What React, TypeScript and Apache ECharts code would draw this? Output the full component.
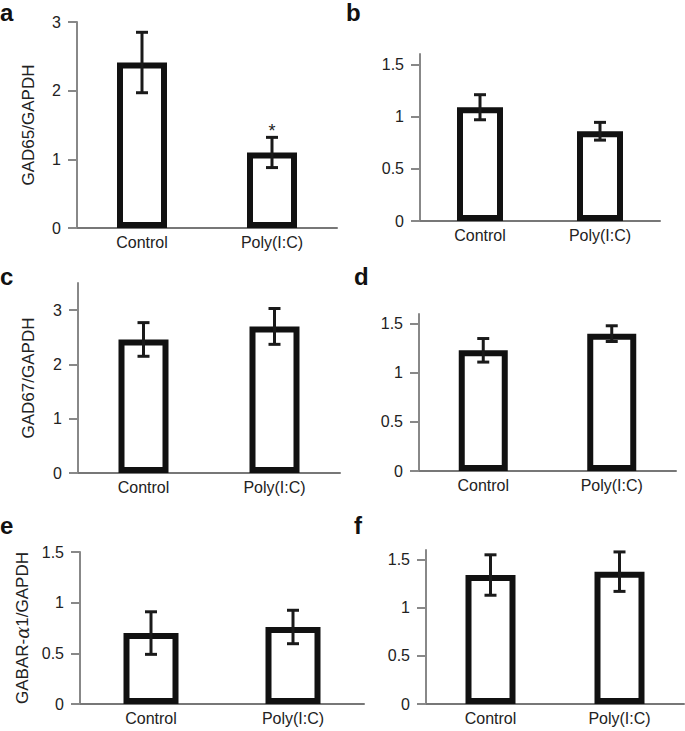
import React, { useEffect, useRef } from "react";
import * as echarts from "echarts";

// ---- data ----
const categories = ["Control", "Poly(I:C)"];

const gad65A = [2.41, 1.1];
const gad65AErr = [0.44, 0.22];
const gad65B = [1.09, 0.86];
const gad65BErr = [0.12, 0.085];
const gad67C = [2.46, 2.7];
const gad67CErr = [0.31, 0.33];
const gad67D = [1.23, 1.4];
const gad67DErr = [0.12, 0.08];
const gabaE = [0.7, 0.76];
const gabaEErr = [0.21, 0.165];
const gabaF = [1.34, 1.375];
const gabaFErr = [0.21, 0.205];

const sigA = ["", "*"];
const sigNone = ["", ""];

const ticksWhole = [0, 1, 2, 3];
const ticksHalf = [0, 0.5, 1, 1.5];

const panelLetters = ["a", "b", "c", "d", "e", "f"];
const yNames = ["GAD65/GAPDH", "", "GAD67/GAPDH", "", "GABAR-{al|α}1/GAPDH", ""];

const FONT = "'Liberation Sans', Arial, Helvetica, sans-serif";

const panels = [
  { mean: gad65A, err: gad65AErr, sig: sigA, max: 3, ticks: ticksWhole, left: 77, top: 22, width: 260, height: 206, barWidth: 50, nameGap: 40 },
  { mean: gad65B, err: gad65BErr, sig: sigNone, max: 1.6, ticks: ticksHalf, left: 420, top: 54, width: 240, height: 167, barWidth: 46, nameGap: 40 },
  { mean: gad67C, err: gad67CErr, sig: sigNone, max: 3.5, ticks: ticksWhole, left: 78, top: 283, width: 262, height: 190, barWidth: 50, nameGap: 41 },
  { mean: gad67D, err: gad67DErr, sig: sigNone, max: 1.6, ticks: ticksHalf, left: 419, top: 314, width: 257, height: 157, barWidth: 49, nameGap: 40 },
  { mean: gabaE, err: gabaEErr, sig: sigNone, max: 1.5, ticks: ticksHalf, left: 80, top: 552, width: 284, height: 152, barWidth: 55, nameGap: 49 },
  { mean: gabaF, err: gabaFErr, sig: sigNone, max: 1.6, ticks: ticksHalf, left: 426, top: 550, width: 258, height: 154, barWidth: 50, nameGap: 40 },
];

const letterPos = [
  { x: 0, y: 0 },
  { x: 346, y: 0 },
  { x: 0, y: 264 },
  { x: 354, y: 264 },
  { x: 0, y: 513 },
  { x: 354, y: 513 },
];

export default function App() {
  const ref = useRef<HTMLDivElement>(null);

  useEffect(() => {
    document.body.style.margin = "0";
    if (!ref.current) return;
    const chart = echarts.init(ref.current, undefined, { renderer: "svg" });

    const grid: any[] = [];
    const xAxis: any[] = [];
    const yAxis: any[] = [];
    const series: any[] = [];

    panels.forEach((p, i) => {
      grid.push({ left: p.left, top: p.top, width: p.width, height: p.height, containLabel: false });
      xAxis.push({
        type: "category",
        gridIndex: i,
        data: categories,
        axisLine: { lineStyle: { color: "#777", width: 2 } },
        axisTick: { show: false },
        axisLabel: { fontSize: 16, color: "#222", margin: 6, fontFamily: FONT },
      });
      yAxis.push({
        type: "value",
        gridIndex: i,
        min: 0,
        max: p.max,
        name: yNames[i],
        nameLocation: "middle",
        nameGap: p.nameGap,
        nameTextStyle: {
          fontSize: 17,
          color: "#222",
          fontFamily: FONT,
          rich: { al: { fontSize: 18, fontStyle: "italic", fontFamily: "'DejaVu Serif', serif", color: "#222" } },
        },
        axisLine: { show: true, lineStyle: { color: "#888", width: 2 } },
        axisTick: { show: true, length: 9, lineStyle: { color: "#888", width: 2 }, customValues: p.ticks },
        axisLabel: { fontSize: 16, color: "#222", margin: 16, fontFamily: FONT, customValues: p.ticks },
        splitLine: { show: false },
      });
      series.push({
        type: "bar",
        xAxisIndex: i,
        yAxisIndex: i,
        data: p.mean,
        barWidth: p.barWidth,
        itemStyle: { color: "#ffffff", borderColor: "#111111", borderWidth: 6 },
        z: 2,
      });
      const sig = p.sig;
      series.push({
        type: "custom",
        xAxisIndex: i,
        yAxisIndex: i,
        z: 5,
        data: p.mean.map((m, j) => [j, m, p.err[j]]),
        renderItem: (params: any, api: any) => {
          const x = api.value(0);
          const m = api.value(1);
          const e = api.value(2);
          const hi = api.coord([x, m + e]);
          const lo = api.coord([x, m - e]);
          const cap = 6;
          const style = { stroke: "#1a1a1a", lineWidth: 3 };
          const children: any[] = [
            { type: "line", shape: { x1: hi[0], y1: hi[1], x2: lo[0], y2: lo[1] }, style },
            { type: "line", shape: { x1: hi[0] - cap, y1: hi[1], x2: hi[0] + cap, y2: hi[1] }, style },
            { type: "line", shape: { x1: lo[0] - cap, y1: lo[1], x2: lo[0] + cap, y2: lo[1] }, style },
          ];
          const s = sig[params.dataIndex];
          if (s) {
            children.push({
              type: "text",
              style: {
                text: s,
                x: hi[0],
                y: hi[1] + 3,
                align: "center",
                verticalAlign: "bottom",
                fontSize: 18,
                fontFamily: FONT,
                fill: "#222",
              },
            });
          }
          return { type: "group", children };
        },
      });
    });

    const graphic = panelLetters.map((l, i) => ({
      type: "text",
      left: letterPos[i].x,
      top: letterPos[i].y,
      style: { text: l, fontSize: 24, fontWeight: "bold", fontFamily: FONT, fill: "#111" },
    }));

    chart.setOption({
      animation: false,
      backgroundColor: "#ffffff",
      grid,
      xAxis,
      yAxis,
      series,
      graphic,
    });

    return () => chart.dispose();
  }, []);

  return <div ref={ref} style={{ width: 685, height: 731 }} />;
}
